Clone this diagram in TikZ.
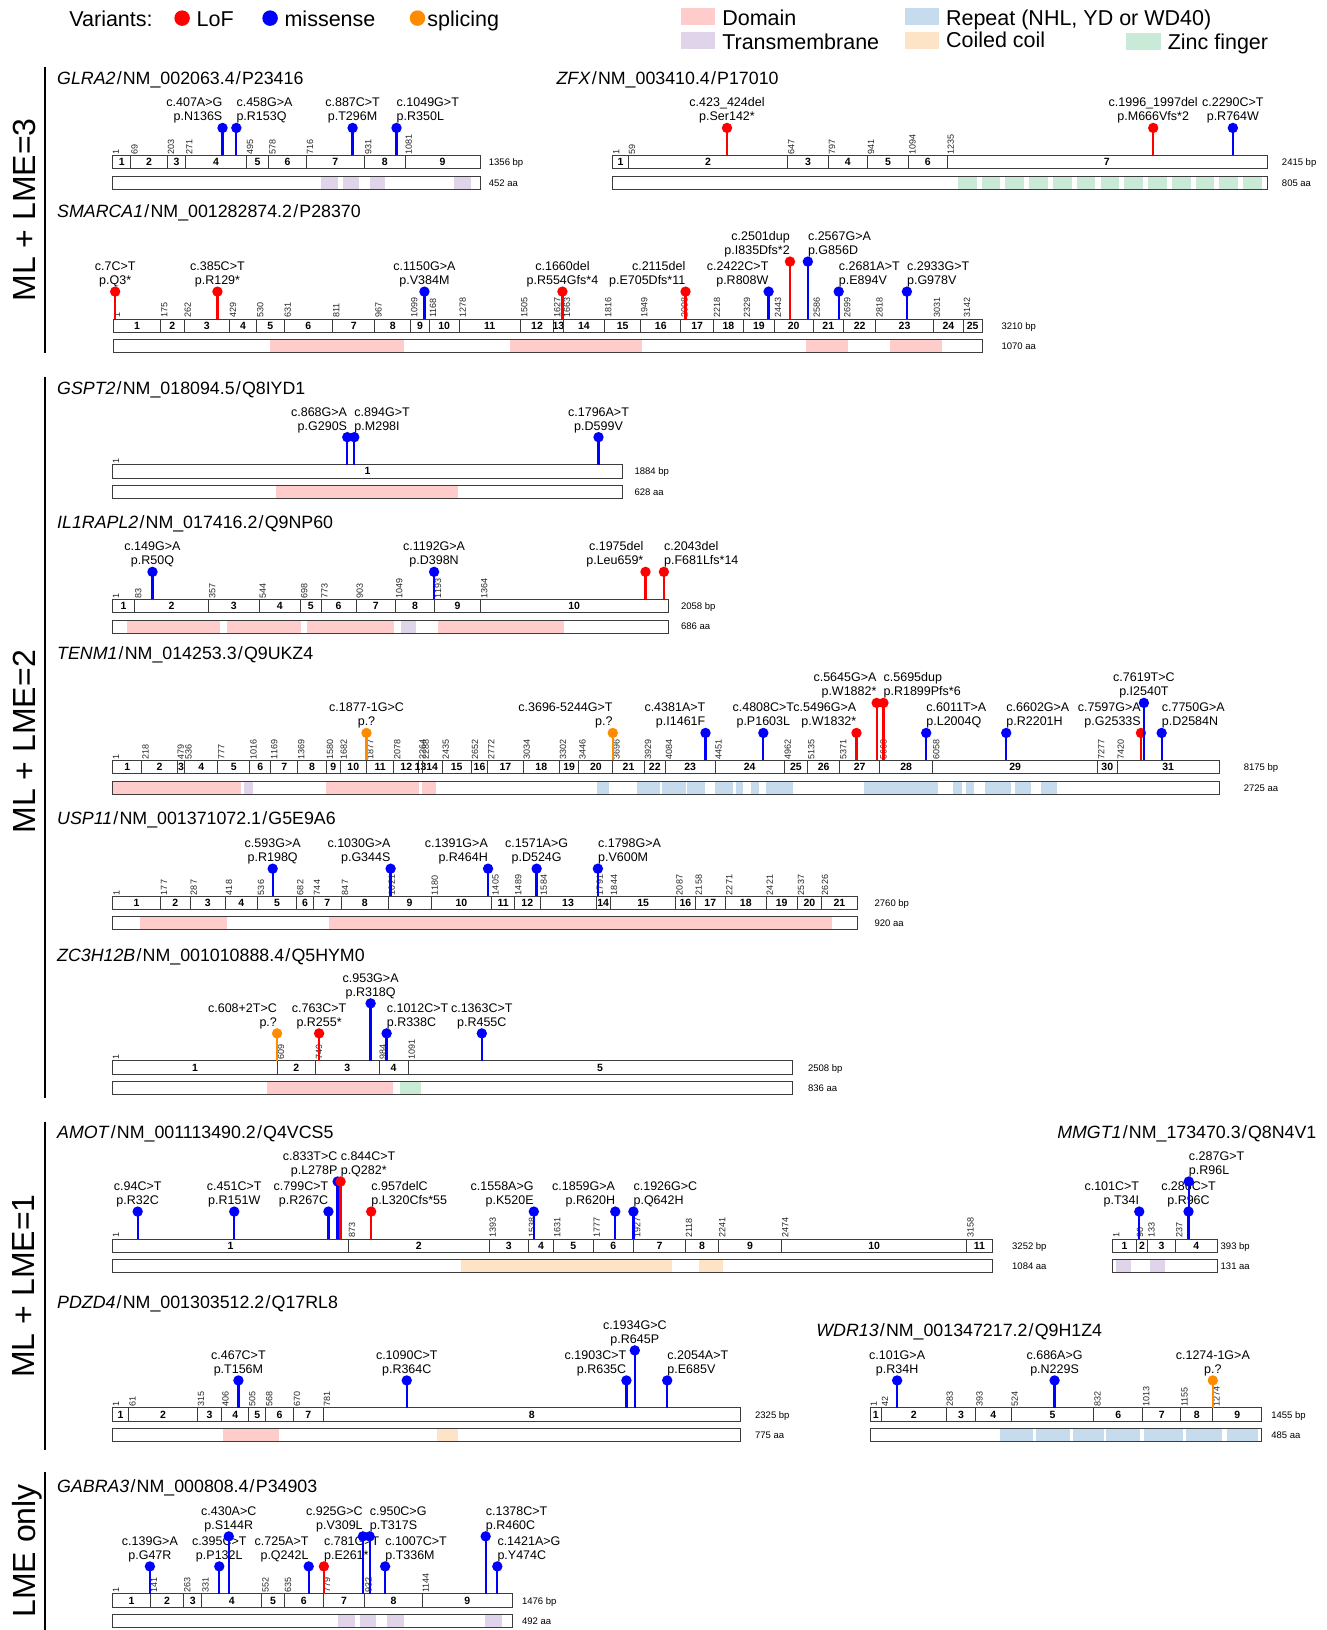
\documentclass[tikz,border=0pt]{standalone}
\usepackage{fontspec}
\setmainfont{Liberation Sans}
\definecolor{lofc}{RGB}{255,0,0}
\definecolor{misc}{RGB}{0,0,255}
\definecolor{splc}{RGB}{255,140,0}
\definecolor{domc}{RGB}{255,204,204}
\definecolor{tmc}{RGB}{224,212,234}
\definecolor{repc}{RGB}{198,220,238}
\definecolor{ccc}{RGB}{253,228,198}
\definecolor{znc}{RGB}{200,234,214}
\definecolor{barc}{RGB}{60,60,60}
\tikzset{
  barline/.style={draw=barc,line width=0.9pt},
  exnum/.style={inner sep=0pt,font=\bfseries\fontsize{10.5}{10.5}\selectfont},
  bnum/.style={rotate=90,anchor=north west,inner sep=0.3pt,font=\fontsize{9}{9.5}\selectfont,text=black!85},
  lenlab/.style={anchor=base west,inner sep=0pt,font=\fontsize{9.5}{10}\selectfont},
  mlab/.style={inner sep=0pt,font=\fontsize{12.5}{14}\selectfont},
  mr/.style={mlab,anchor=south east,align=right},
  ml/.style={mlab,anchor=south west,align=left},
  mc/.style={mlab,anchor=south,align=center},
  mhead/.style={circle,inner sep=0pt,minimum size=10.4pt},
  stem/.style={line width=2.3pt},
  gtitlest/.style={anchor=base west,inner sep=0pt,font=\fontsize{17.8}{19}\selectfont},
  grplab/.style={rotate=90,inner sep=0pt,text depth=0pt,font=\fontsize{32}{34}\selectfont},
  leg/.style={anchor=base west,inner sep=0pt,font=\fontsize{21.5}{23}\selectfont},
  legdot/.style={circle,inner sep=0pt,minimum size=15.5pt},
  legbox/.style={anchor=north west,inner sep=0pt,minimum width=34.2pt,minimum height=16.6pt},
}
\def\lo{26.5}
\def\hi{55.5}
\newcommand\gsep{\kern1.2pt/\kern1.2pt}
\newcommand\setgene[5]{\gdef\gid{#1}\gdef\gxa{#2}\gdef\gxb{#3}\gdef\gy{#4}\gdef\gL{#5}}
\newcommand\gtitle[3]{\node[gtitlest] (\gid-title) at (#1,#2+6.2) {#3};}
\newcommand\exonbar[1]{%
  \draw[barline,fill=white] (\gxa,\gy) rectangle (\gxb,\gy+13);
  \foreach \b [count=\i, remember=\b as \p (initially 1)] in {#1} {
    \pgfmathsetmacro\bx{\gxa+(\b-1)/\gL*(\gxb-\gxa)}
    \ifnum\i>1\relax
      \pgfmathsetmacro\mx{\gxa+((\p+\b)/2-1)/\gL*(\gxb-\gxa)}
      \pgfmathtruncatemacro\en{\i-1}
      \node[exnum] (\gid-e\en) at (\mx,\gy+6.5) {\en};
    \fi
    \ifnum\b<\gL\relax
      \ifnum\i>1\relax \draw[barline] (\bx,\gy) -- (\bx,\gy+13);\fi
      \node[bnum] (\gid-b\i) at (\bx,\gy-0.6) {\b};
    \fi
  }
  \pgfmathsetmacro\lx{\gxb+0.021*(\gxb-\gxa)+1}
  \node[lenlab] (\gid-bp) at (\lx,\gy+9.8) {\gL\ bp};
}
\newcommand\protbar[2]{%
  \fill[white] (\gxa,\gy+20) rectangle (\gxb,\gy+32.5);
  \foreach \fc/\fa/\fz in {#2} {\fill[\fc] (\fa,\gy+20) rectangle (\fz,\gy+32.5);}
  \draw[barline] (\gxa,\gy+20) rectangle (\gxb,\gy+32.5);
  \pgfmathsetmacro\lx{\gxb+0.021*(\gxb-\gxa)+1}
  \node[lenlab] (\gid-aa) at (\lx,\gy+29.6) {#1 aa};
}
\newcommand\mut[6]{%
  \pgfmathsetmacro\mx{\gxa+(#2-1)/\gL*(\gxb-\gxa)}
  \pgfmathsetmacro\hy{\gy-#3}
  \coordinate (\gid-s#2) at (\mx,\gy);
  \coordinate (\gid-h#2) at (\mx,\hy);
  \draw[stem,#1] (\gid-s#2) -- (\gid-h#2);
  \node[mhead,fill=#1] (\gid-m#2) at (\gid-h#2) {};
  \node[#4] (\gid-l#2) at (\mx,\hy-4.2) {#5\\#6};
}
\begin{document}
\begin{tikzpicture}[x=1.03594pt,y=-1.03594pt]
\useasboundingbox (0,0) rectangle (1280,1573.4);
% ---------- legend
\node[leg] (legv) at (66.8,25.8) {Variants:};
\node[legdot,fill=lofc] (legd1) at (175.8,17.5) {};
\node[leg] (legt1) at (189.6,25.8) {LoF};
\node[legdot,fill=misc] (legd2) at (260.7,17.5) {};
\node[leg] (legt2) at (274.5,25.8) {missense};
\node[legdot,fill=splc] (legd3) at (403,17.5) {};
\node[leg] (legt3) at (412.4,25.8) {splicing};
\node[legbox,fill=domc] (lgb1) at (657,8) {};
\node[leg] (lgt1) at (697,24.5) {Domain};
\node[legbox,fill=tmc] (lgb2) at (657,31) {};
\node[leg] (lgt2) at (697,47.5) {Transmembrane};
\node[legbox,fill=repc] (lgb3) at (873,8) {};
\node[leg] (lgt3) at (913,24.5) {Repeat (NHL, YD or WD40)};
\node[legbox,fill=ccc] (lgb4) at (873,31) {};
\node[leg] (lgt4) at (913,46) {Coiled coil};
\node[legbox,fill=znc] (lgb5) at (1087,32) {};
\node[leg] (lgt5) at (1127,47.5) {Zinc finger};
% ---------- group labels
\draw[line width=1.2pt] (43.5,64.4) -- (43.5,341);
\draw[line width=1.2pt] (43.5,363.6) -- (43.5,1060);
\draw[line width=1.2pt] (43.5,1082.7) -- (43.5,1400);
\draw[line width=1.2pt] (43.5,1420.6) -- (43.5,1573.4);
\node[grplab] (g1) at (23,202.7) {ML + LME=3};
\node[grplab] (g2) at (23,716) {ML + LME=2};
\node[grplab] (g3) at (23,1241.4) {ML + LME=1};
\node[grplab] (g4) at (23,1497) {LME only};
% ---------- GLRA2
\setgene{glra2}{108.6}{463.3}{150}{1356}
\gtitle{55}{75.6}{\textit{GLRA2}\gsep NM\_002063.4\gsep P23416}
\exonbar{1,69,203,271,495,578,716,931,1081,1356}
\protbar{452}{tmc/310.3/326.3,tmc/331/347,tmc/356.8/371.9,tmc/438.7/454.6}
\mut{misc}{407}{\lo}{mr}{c.407A>G}{p.N136S}
\mut{misc}{458}{\lo}{ml}{c.458G>A}{p.R153Q}
\mut{misc}{887}{\lo}{mc}{c.887C>T}{p.T296M}
\mut{misc}{1049}{\lo}{ml}{c.1049G>T}{p.R350L}
% ---------- ZFX
\setgene{zfx}{591.4}{1223}{150}{2415}
\gtitle{537}{75.3}{\textit{ZFX}\gsep NM\_003410.4\gsep P17010}
\exonbar{1,59,647,797,941,1094,1235,2415}
\protbar{805}{znc/924.6/942.7,znc/947.5/965.6,znc/970.5/988.6,znc/993.4/1011.5,znc/1016.4/1034.5,znc/1039.3/1057.4,znc/1062.3/1080.4,znc/1085.2/1103.3,znc/1108.2/1126.3,znc/1131.1/1149.2,znc/1154.1/1172.2,znc/1177/1195.1,znc/1200/1218.1}
\mut{lofc}{423}{\lo}{mc}{c.423\_424del}{p.Ser142*}
\mut{lofc}{1996}{\lo}{mc}{c.1996\_1997del}{p.M666Vfs*2}
\mut{misc}{2290}{\lo}{mc}{c.2290C>T}{p.R764W}
% ---------- SMARCA1
\setgene{smarca1}{109.6}{948}{308}{3210}
\gtitle{55}{203.4}{\textit{SMARCA1}\gsep NM\_001282874.2\gsep P28370}
\exonbar{1,175,262,429,530,631,811,967,1099,1168,1278,1505,1627,1663,1816,1949,2098,2218,2329,2443,2586,2699,2818,3031,3142,3210}
\protbar{1070}{domc/261/390,domc/492.5/619.6,domc/778/819,domc/859/909}
\mut{lofc}{7}{\lo}{mc}{c.7C>T}{p.Q3*}
\mut{lofc}{385}{\lo}{mc}{c.385C>T}{p.R129*}
\mut{misc}{1150}{\lo}{mc}{c.1150G>A}{p.V384M}
\mut{lofc}{1660}{\lo}{mc}{c.1660del}{p.R554Gfs*4}
\mut{lofc}{2115}{\lo}{mr}{c.2115del}{p.E705Dfs*11}
\mut{misc}{2422}{\lo}{mr}{c.2422C>T}{p.R808W}
\mut{lofc}{2501}{\hi}{mr}{c.2501dup}{p.I835Dfs*2}
\mut{misc}{2567}{\hi}{ml}{c.2567G>A}{p.G856D}
\mut{misc}{2681}{\lo}{ml}{c.2681A>T}{p.E894V}
\mut{misc}{2933}{\lo}{ml}{c.2933G>T}{p.G978V}
% ---------- GSPT2
\setgene{gspt2}{108.6}{601}{448.5}{1884}
\gtitle{55}{374.8}{\textit{GSPT2}\gsep NM\_018094.5\gsep Q8IYD1}
\exonbar{1,1884}
\protbar{628}{domc/266.3/441.7}
\mut{misc}{868}{\lo}{mr}{c.868G>A}{p.G290S}
\mut{misc}{894}{\lo}{ml}{c.894G>T}{p.M298I}
\mut{misc}{1796}{\lo}{mc}{c.1796A>T}{p.D599V}
% ---------- IL1RAPL2
\setgene{il1rapl2}{108.6}{645}{578.5}{2058}
\gtitle{55}{504}{\textit{IL1RAPL2}\gsep NM\_017416.2\gsep Q9NP60}
\exonbar{1,83,357,544,698,773,903,1049,1193,1364,2058}
\protbar{686}{domc/123/212,domc/219.4/290.5,domc/296.5/380,tmc/387/402,domc/423/544.5}
\mut{misc}{149}{\lo}{mc}{c.149G>A}{p.R50Q}
\mut{misc}{1192}{\lo}{mc}{c.1192G>A}{p.D398N}
\mut{lofc}{1975}{\lo}{mr,xshift=-2pt}{c.1975del}{p.Leu659*}
\mut{lofc}{2043}{\lo}{ml}{c.2043del}{p.F681Lfs*14}
% ---------- TENM1
\setgene{tenm1}{108.6}{1177}{734}{8175}
\gtitle{55}{630.6}{\textit{TENM1}\gsep NM\_014253.3\gsep Q9UKZ4}
\exonbar{1,218,479,536,777,1016,1169,1369,1580,1682,1877,2078,2264,2288,2435,2652,2772,3034,3302,3446,3696,3929,4084,4451,4962,5135,5371,5668,6058,7277,7420,8175}
\protbar{2725}{domc/108.6/232.7,tmc/235.5/243.8,domc/314.8/404.5,domc/407.3/421,repc/576.3/587.4,repc/615/637,repc/639/662,repc/663/680.5,repc/690/707.6,repc/710.4/717.5,repc/725/732.6,repc/739.6/765.7,repc/834/905,repc/920/929,repc/932/940,repc/951/976,repc/980/995,repc/1005/1020}
\mut{splc}{1877}{\lo}{mc}{c.1877-1G>C}{p.?}
\mut{splc}{3696}{\lo}{mr}{c.3696-5244G>T}{p.?}
\mut{misc}{4381}{\lo}{mr}{c.4381A>T}{p.I1461F}
\mut{misc}{4808}{\lo}{mc}{c.4808C>T}{p.P1603L}
\mut{lofc}{5496}{\lo}{mr}{c.5496G>A}{p.W1832*}
\mut{lofc}{5645}{\hi}{mr}{c.5645G>A}{p.W1882*}
\mut{lofc}{5695}{\hi}{ml}{c.5695dup}{p.R1899Pfs*6}
\mut{misc}{6011}{\lo}{ml}{c.6011T>A}{p.L2004Q}
\mut{misc}{6602}{\lo}{ml}{c.6602G>A}{p.R2201H}
\mut{lofc}{7597}{\lo}{mr}{c.7597G>A}{p.G2533S}
\mut{misc}{7619}{\hi}{mc}{c.7619T>C}{p.I2540T}
\mut{misc}{7750}{\lo}{ml}{c.7750G>A}{p.D2584N}
% ---------- USP11
\setgene{usp11}{109}{828}{865}{2760}
\gtitle{55}{790}{\textit{USP11}\gsep NM\_001371072.1\gsep G5E9A6}
\exonbar{1,177,287,418,536,682,744,847,1021,1180,1405,1489,1584,1791,1844,2087,2158,2271,2421,2537,2626,2760}
\protbar{920}{domc/134.7/218.9,domc/317.5/803.5}
\mut{misc}{593}{\lo}{mc}{c.593G>A}{p.R198Q}
\mut{misc}{1030}{\lo}{mr}{c.1030G>A}{p.G344S}
\mut{misc}{1391}{\lo}{mr}{c.1391G>A}{p.R464H}
\mut{misc}{1571}{\lo}{mc}{c.1571A>G}{p.D524G}
\mut{misc}{1798}{\lo}{ml}{c.1798G>A}{p.V600M}
% ---------- ZC3H12B
\setgene{zc3h12b}{108.6}{765}{1024}{2508}
\gtitle{55}{921.8}{\textit{ZC3H12B}\gsep NM\_001010888.4\gsep Q5HYM0}
\exonbar{1,609,749,984,1091,2508}
\protbar{836}{domc/258/379.6,znc/386/406.6}
\mut{splc}{608}{\lo}{mr}{c.608+2T>C}{p.?}
\mut{lofc}{763}{\lo}{mc}{c.763C>T}{p.R255*}
\mut{misc}{953}{\hi}{mc}{c.953G>A}{p.R318Q}
\mut{misc}{1012}{\lo}{ml}{c.1012C>T}{p.R338C}
\mut{misc}{1363}{\lo}{mc}{c.1363C>T}{p.R455C}
% ---------- AMOT
\setgene{amot}{108.6}{958}{1196}{3252}
\gtitle{55}{1092.4}{\textit{AMOT}\gsep NM\_001113490.2\gsep Q4VCS5}
\exonbar{1,873,1393,1538,1631,1777,1927,2118,2241,2474,3158,3252}
\protbar{1084}{ccc/444.9/649,ccc/675/698}
\mut{misc}{94}{\lo}{mc}{c.94C>T}{p.R32C}
\mut{misc}{451}{\lo}{mc}{c.451C>T}{p.R151W}
\mut{misc}{799}{\lo}{mr}{c.799C>T}{p.R267C}
\mut{misc}{833}{\hi}{mr}{c.833T>C}{p.L278P}
\mut{lofc}{844}{\hi}{ml}{c.844C>T}{p.Q282*}
\mut{lofc}{957}{\lo}{ml}{c.957delC}{p.L320Cfs*55}
\mut{misc}{1558}{\lo}{mr}{c.1558A>G}{p.K520E}
\mut{misc}{1859}{\lo}{mr}{c.1859G>A}{p.R620H}
\mut{misc}{1926}{\lo}{ml}{c.1926G>C}{p.Q642H}
% ---------- MMGT1
\setgene{mmgt1}{1074}{1175}{1196}{393}
\gtitle{1020.4}{1092.4}{\textit{MMGT1}\gsep NM\_173470.3\gsep Q8N4V1}
\exonbar{1,90,133,237,393}
\protbar{131}{tmc/1077/1092,tmc/1110/1125}
\mut{misc}{101}{\lo}{mr}{c.101C>T}{p.T34I}
\mut{misc}{286}{\lo}{mc}{c.286C>T}{p.R96C}
\mut{misc}{287}{\hi}{ml}{c.287G>T}{p.R96L}
% ---------- PDZD4
\setgene{pdzd4}{108.6}{715}{1359}{2325}
\gtitle{55}{1256.5}{\textit{PDZD4}\gsep NM\_001303512.2\gsep Q17RL8}
\exonbar{1,61,315,406,505,568,670,781,2325}
\protbar{775}{domc/215.4/269.3,ccc/421.5/441.7}
\mut{misc}{467}{\lo}{mc}{c.467C>T}{p.T156M}
\mut{misc}{1090}{\lo}{mc}{c.1090C>T}{p.R364C}
\mut{misc}{1903}{\lo}{mr}{c.1903C>T}{p.R635C}
\mut{misc}{1934}{\hi}{mc}{c.1934G>C}{p.R645P}
\mut{misc}{2054}{\lo}{ml}{c.2054A>T}{p.E685V}
% ---------- WDR13
\setgene{wdr13}{840}{1218}{1359}{1455}
\gtitle{787.8}{1283.8}{\textit{WDR13}\gsep NM\_001347217.2\gsep Q9H1Z4}
\exonbar{1,42,283,393,524,832,1013,1155,1274,1455}
\protbar{485}{repc/965/997,repc/1000/1033,repc/1036/1066,repc/1068/1100,repc/1104/1142,repc/1145/1180,repc/1184/1214}
\mut{misc}{101}{\lo}{mc}{c.101G>A}{p.R34H}
\mut{misc}{686}{\lo}{mc}{c.686A>G}{p.N229S}
\mut{splc}{1274}{\lo}{mc}{c.1274-1G>A}{p.?}
% ---------- GABRA3
\setgene{gabra3}{108.6}{494.7}{1538.5}{1476}
\gtitle{55}{1434.4}{\textit{GABRA3}\gsep NM\_000808.4\gsep P34903}
\exonbar{1,141,263,331,552,635,779,932,1144,1476}
\protbar{492}{tmc/326/342.6,tmc/347.3/363.3,tmc/374/390,tmc/468.3/484.8}
\mut{misc}{139}{\lo}{mc}{c.139G>A}{p.G47R}
\mut{misc}{395}{\lo}{mc}{c.395C>T}{p.P132L}
\mut{misc}{430}{\hi}{mc}{c.430A>C}{p.S144R}
\mut{misc}{725}{\lo}{mr}{c.725A>T}{p.Q242L}
\mut{lofc}{781}{\lo}{ml}{c.781G>T}{p.E261*}
\mut{misc}{925}{\hi}{mr}{c.925G>C}{p.V309L}
\mut{misc}{950}{\hi}{ml}{c.950C>G}{p.T317S}
\mut{misc}{1007}{\lo}{ml}{c.1007C>T}{p.T336M}
\mut{misc}{1378}{\hi}{ml}{c.1378C>T}{p.R460C}
\mut{misc}{1421}{\lo}{ml}{c.1421A>G}{p.Y474C}
\end{tikzpicture}
\end{document}
